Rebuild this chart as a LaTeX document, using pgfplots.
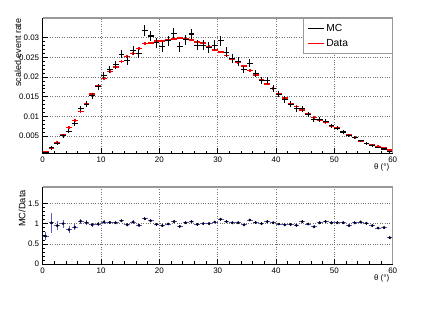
\documentclass[border=0pt]{standalone}
\usepackage{pgfplots}
\pgfplotsset{compat=1.18}
\usepackage{pgfplotstable}
\usepackage{fontspec}
\setmainfont{Liberation Sans}
\definecolor{errblue}{rgb}{0.35,0.35,0.85}
\definecolor{framegray}{rgb}{0.6,0.6,0.6}

\pgfplotstableread{
x data mc emc ratio eratio
0.5 0.0010 0.0007 0.0002 0.69 0.10
1.5 0.0020 0.0020 0.0005 1.02 0.25
2.5 0.0033 0.0031 0.0004 0.95 0.12
3.5 0.0052 0.0051 0.0005 1.00 0.10
4.5 0.0072 0.0062 0.0005 0.85 0.08
5.5 0.0089 0.0082 0.0006 0.91 0.07
6.5 0.0112 0.0120 0.0007 1.06 0.06
7.5 0.0133 0.0131 0.0007 1.02 0.06
8.5 0.0156 0.0152 0.0008 0.97 0.05
9.5 0.0177 0.0175 0.0008 0.99 0.05
10.5 0.0196 0.0204 0.0009 1.04 0.045
11.5 0.0214 0.0219 0.0010 1.03 0.045
12.5 0.0226 0.0231 0.0010 1.02 0.04
13.5 0.0239 0.0258 0.0011 1.07 0.04
14.5 0.0252 0.0242 0.0011 0.97 0.04
15.5 0.0260 0.0267 0.0012 1.04 0.04
16.5 0.0272 0.0260 0.0012 0.96 0.04
17.5 0.0285 0.0318 0.0013 1.12 0.035
18.5 0.0286 0.0304 0.0013 1.07 0.035
19.5 0.0292 0.0287 0.0013 0.98 0.035
20.5 0.0292 0.0277 0.0013 0.95 0.035
21.5 0.0294 0.0292 0.0013 0.99 0.035
22.5 0.0297 0.0311 0.0013 1.05 0.035
23.5 0.0299 0.0277 0.0013 0.93 0.035
24.5 0.0296 0.0294 0.0013 1.02 0.035
25.5 0.0294 0.0309 0.0013 1.05 0.035
26.5 0.0289 0.0281 0.0013 0.98 0.035
27.5 0.0286 0.0281 0.0013 1.00 0.035
28.5 0.0277 0.0275 0.0013 1.00 0.035
29.5 0.0269 0.0281 0.0013 1.04 0.035
30.5 0.0263 0.0292 0.0013 1.11 0.035
31.5 0.0254 0.0263 0.0012 1.05 0.035
32.5 0.0245 0.0247 0.0011 1.02 0.035
33.5 0.0237 0.0239 0.0011 1.02 0.035
34.5 0.0228 0.0219 0.0010 0.97 0.035
35.5 0.0216 0.0235 0.0010 1.09 0.035
36.5 0.0205 0.0209 0.0009 1.03 0.035
37.5 0.0192 0.0192 0.0009 1.00 0.035
38.5 0.0182 0.0190 0.0009 1.05 0.035
39.5 0.0171 0.0171 0.0008 1.02 0.035
40.5 0.0157 0.0156 0.0008 0.99 0.035
41.5 0.0146 0.0143 0.0008 0.97 0.035
42.5 0.0133 0.0131 0.0007 0.98 0.035
43.5 0.0125 0.0119 0.0007 0.96 0.035
44.5 0.0116 0.0119 0.0007 1.05 0.035
45.5 0.0106 0.0105 0.0006 0.99 0.035
46.5 0.0097 0.0091 0.0006 0.92 0.035
47.5 0.0091 0.0091 0.0006 1.02 0.035
48.5 0.0084 0.0087 0.0005 1.05 0.035
49.5 0.0076 0.0076 0.0005 1.02 0.035
50.5 0.0070 0.0070 0.0005 1.02 0.035
51.5 0.0060 0.0060 0.0004 1.02 0.035
52.5 0.0053 0.0051 0.0004 0.95 0.035
53.5 0.0046 0.0046 0.0004 1.02 0.035
54.5 0.0038 0.0038 0.0003 1.04 0.035
55.5 0.0031 0.0031 0.0003 1.01 0.035
56.5 0.0027 0.0026 0.0003 0.95 0.035
57.5 0.0023 0.0021 0.0002 0.89 0.035
58.5 0.0019 0.0017 0.0002 0.90 0.035
59.5 0.0014 0.0010 0.0002 0.65 0.04
}\tab

\pgfplotsset{
  rootstyle/.style={
    scale only axis,
    width=350bp,
    xmin=0, xmax=60,
    xtick={0,10,20,30,40,50,60},
    xticklabels={0,10,20,30,40,50,60},
    scaled x ticks=false, scaled y ticks=false,
    minor x tick num=4,
    minor y tick num=4,
    tick align=inside,
    xtick pos=bottom, ytick pos=left,
    major tick length=5bp,
    minor tick length=2.5bp,
    tick style={black, line width=0.5bp},
    grid=major,
    grid style={dotted, black!55, line width=0.6bp},
    axis line style={black, line width=0.6bp},
    ticklabel style={font=\fontsize{8}{9}\selectfont, /pgf/number format/assume math mode=true},
    xlabel style={font=\fontsize{8}{9}\selectfont},
    ylabel style={font=\fontsize{9}{10}\selectfont},
    extra description/.code={
      \draw[framegray, line width=1.6bp] (rel axis cs:0,1) -- (rel axis cs:1,1) -- (rel axis cs:1,0);
    },
  },
}

\begin{document}
\begin{tikzpicture}
\path[use as bounding box] (0,0) rectangle (436bp,313bp);

\begin{axis}[
  rootstyle,
  at={(42.7bp,159.7bp)}, anchor=south west,
  height=135bp,
  ymin=0.0006, ymax=0.0349,
  ytick={0.005,0.01,0.015,0.02,0.025,0.03},
  yticklabels={0.005,0.01,0.015,0.02,0.025,0.03},
  ylabel={scaled event rate},
  ylabel style={at={([xshift=-24.7bp,yshift=3.3bp]rel axis cs:0,1)}, anchor=east},
  xlabel={θ (°)},
  xlabel style={at={([yshift=-13.7bp]rel axis cs:1,0)}, anchor=east},
  legend style={at={(rel axis cs:1,1)}, anchor=north east, draw=framegray,
    line width=0.8bp, fill=white, font=\fontsize{10.3}{12}\selectfont,
    inner xsep=4bp, inner ysep=3.5bp, row sep=2.5bp, cells={anchor=west}},
]
\addlegendimage{legend image code/.code={\draw[black, line width=1.2bp] (0bp,0bp) -- (16bp,0bp);}}
\addlegendentry{\makebox[60bp][l]{MC}}
\addlegendimage{legend image code/.code={\draw[red, line width=1.2bp] (0bp,0bp) -- (16bp,0bp);}}
\addlegendentry{\makebox[60bp][l]{Data}}

\addplot[draw=none, mark=none, forget plot,
  error bars/.cd, x dir=both, x fixed=0.5, y dir=both, y fixed=0.0003,
  error mark=none, error bar style={draw=red, solid, line width=1.6bp}]
  table[x=x, y=data] {\tab};
\addplot[draw=none, mark=none, forget plot,
  error bars/.cd, x dir=both, x fixed=0.5, y dir=both, y explicit,
  error mark=none, error bar style={draw=black, solid, line width=1.1bp}]
  table[x=x, y=mc, y error=emc] {\tab};
\end{axis}

\begin{axis}[
  rootstyle,
  at={(42.7bp,49bp)}, anchor=south west,
  height=76.7bp,
  ymin=0, ymax=1.9,
  ytick={0,0.5,1,1.5},
  yticklabels={0,0.5,1,1.5},
  ylabel={MC/Data},
  ylabel style={at={([xshift=-20.7bp,yshift=0.6bp]rel axis cs:0,1)}, anchor=east, font=\fontsize{9.3}{10}\selectfont},
  xlabel={θ (°)},
  xlabel style={at={([yshift=-14bp]rel axis cs:1,0)}, anchor=east},
]
\addplot[black, only marks, mark=*, mark size=1.2bp,
  error bars/.cd, x dir=both, x fixed=0.5, y dir=both, y explicit,
  error mark=none, error bar style={errblue, line width=0.8bp}]
  table[x=x, y=ratio, y error=eratio] {\tab};
\end{axis}
\end{tikzpicture}
\end{document}
